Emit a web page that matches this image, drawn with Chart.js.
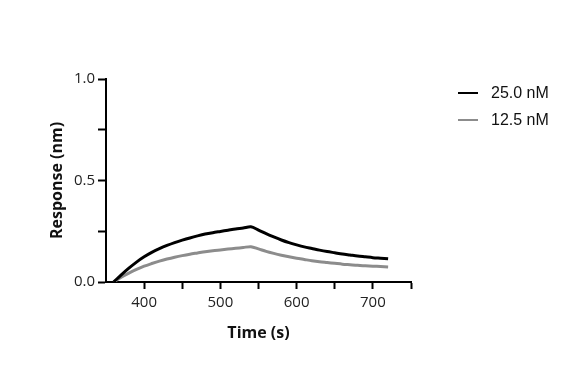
<!DOCTYPE html>
<html>
<head>
<meta charset="utf-8">
<script src="https://cdn.jsdelivr.net/npm/chart.js@4/dist/chart.umd.min.js"></script>
<style>
  html, body { margin: 0; padding: 0; background: #fff; }
  #wrap { position: relative; width: 579px; height: 377px; }
  #legend { position: absolute; left: 458px; top: 82px; font-family: "Liberation Sans", Arial, sans-serif; font-size: 16px; color: #111; }
  .item { position: relative; height: 27px; line-height: 22px; }
  .item span.sw { position: absolute; left: 0; top: 10px; width: 20px; height: 2px; }
  .item span.tx { position: absolute; left: 33px; top: 0; white-space: nowrap; }
</style>
</head>
<body>
<div id="wrap">
  <canvas id="kineticsChart" width="579" height="377"></canvas>
  <div id="legend"></div>
</div>
<script>
// Sensorgrama: asociación 360-540 s, disociación 540-720 s
var times = [360, 370, 380, 390, 400, 410, 420, 430, 440, 450, 460, 470, 480, 490, 500, 510, 520, 530, 540,
             550, 560, 570, 580, 590, 600, 610, 620, 630, 640, 650, 660, 670, 680, 690, 700, 710, 720];
var conc25 = [0.000, 0.035, 0.068, 0.098, 0.124, 0.146, 0.164, 0.180, 0.194, 0.206, 0.217, 0.227, 0.236, 0.243, 0.249, 0.255, 0.261, 0.266, 0.272,
              0.256, 0.238, 0.222, 0.207, 0.194, 0.183, 0.173, 0.165, 0.157, 0.150, 0.144, 0.138, 0.133, 0.128, 0.124, 0.120, 0.117, 0.114];
var conc125 = [0.000, 0.024, 0.044, 0.062, 0.078, 0.091, 0.103, 0.113, 0.122, 0.130, 0.137, 0.143, 0.149, 0.154, 0.158, 0.162, 0.166, 0.170, 0.174,
               0.163, 0.151, 0.141, 0.132, 0.124, 0.117, 0.111, 0.105, 0.100, 0.096, 0.092, 0.088, 0.085, 0.082, 0.080, 0.078, 0.076, 0.074];
var seriesNames = ['25.0 nM', '12.5 nM'];
var seriesColors = ['#000000', '#8c8c8c'];
var xLabels = [400, 500, 600, 700];
var yLabels = [0, 0.5, 1];

function toPoints(values) {
    return times.map(function (t, i) { return { x: t, y: values[i] }; });
}

var ctx = document.getElementById('kineticsChart').getContext('2d');
var tickFont = { family: 'Open Sans', size: 15 };
var titleFont = { family: 'Open Sans', size: 16, weight: 'bold' };

var chart = new Chart(ctx, {
    type: 'line',
    data: {
        datasets: [
            {
                label: seriesNames[0],
                data: toPoints(conc25),
                borderColor: seriesColors[0],
                borderWidth: 3,
                pointRadius: 0,
                tension: 0.3
            },
            {
                label: seriesNames[1],
                data: toPoints(conc125),
                borderColor: seriesColors[1],
                borderWidth: 3,
                pointRadius: 0,
                tension: 0.3
            }
        ]
    },
    options: {
        responsive: false,
        animation: false,
        layout: { padding: { left: 0, top: 79, right: 168, bottom: 0 } },
        plugins: {
            legend: { display: false },
            tooltip: { enabled: false }
        },
        scales: {
            x: {
                type: 'linear',
                min: 350,
                max: 750,
                afterFit: function (scale) { scale.height = 95; },
                border: { display: true, color: '#000', width: 2 },
                grid: {
                    drawOnChartArea: false,
                    drawTicks: true,
                    tickLength: 7,
                    tickWidth: 2,
                    tickColor: function (c) { return c.tick && c.tick.value === 350 ? 'rgba(0,0,0,0)' : '#000'; }
                },
                ticks: {
                    stepSize: 50,
                    autoSkip: false,
                    maxRotation: 0,
                    padding: 5,
                    color: '#222',
                    font: tickFont,
                    callback: function (v) { return xLabels.indexOf(v) >= 0 ? String(v) : ''; }
                },
                title: {
                    display: true,
                    text: 'Time (s)',
                    color: '#111',
                    font: titleFont,
                    padding: { top: 0, bottom: 34 }
                }
            },
            y: {
                min: 0,
                max: 1,
                afterFit: function (scale) { scale.width = 106; },
                border: { display: true, color: '#000', width: 2 },
                grid: {
                    drawOnChartArea: false,
                    drawTicks: true,
                    tickLength: 8,
                    tickWidth: 2,
                    tickColor: '#000'
                },
                ticks: {
                    stepSize: 0.25,
                    autoSkip: false,
                    padding: 3,
                    color: '#222',
                    font: tickFont,
                    callback: function (v) { return yLabels.indexOf(v) >= 0 ? v.toFixed(1) : ''; }
                },
                title: {
                    display: true,
                    text: 'Response (nm)',
                    color: '#111',
                    font: titleFont,
                    padding: { top: 48, bottom: 0 }
                }
            }
        }
    }
});

// leyenda en HTML
var legendHtml = '';
for (var i = 0; i < seriesNames.length; i++) {
    legendHtml += '<div class="item"><span class="sw" style="background:' + seriesColors[i] + '"></span>' +
                  '<span class="tx">' + seriesNames[i] + '</span></div>';
}
document.getElementById('legend').innerHTML = legendHtml;
</script>
</body>
</html>
